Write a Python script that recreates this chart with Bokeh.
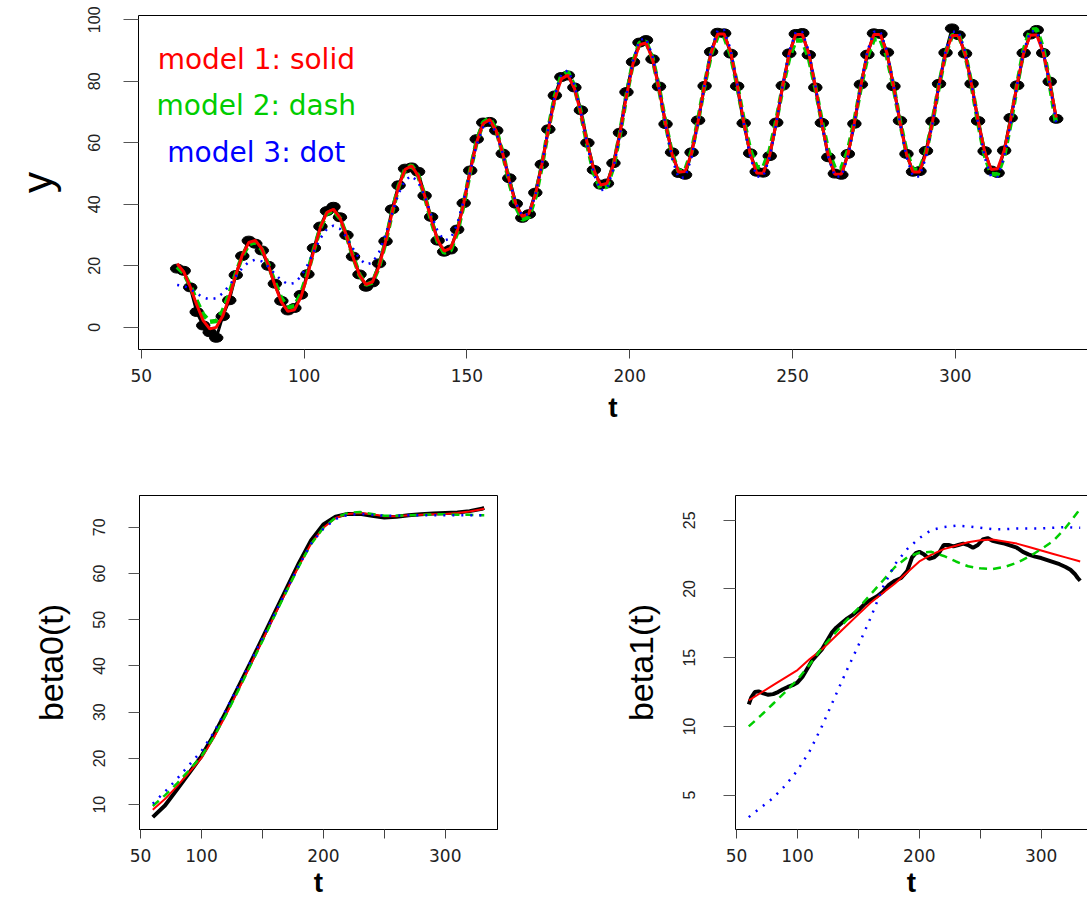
from bokeh.plotting import figure
from bokeh.models import LinearAxis, FixedTicker, Range1d, Label
from bokeh.layouts import column, row
from bokeh.embed import file_html
from bokeh.resources import INLINE

# ---------------- data ----------------
# observation times (every 2 units)
t_obs = list(range(61, 333, 2))

y_obs = [19.1, 18.4, 13.0, 5.0, 0.6, -1.6, -3.4, 3.6, 8.8, 17.0, 23.2, 28.2,
         27.2, 25.0, 20.0, 14.2, 8.6, 5.5, 6.3, 10.6, 17.3, 25.8, 32.8, 37.8,
         39.2, 35.8, 30.0, 23.0, 17.2, 13.2, 14.6, 20.8, 28.0, 38.4, 46.2, 51.6,
         52.0, 50.6, 42.8, 35.9, 28.2, 24.6, 25.3, 31.8, 40.4, 51.0, 61.2, 66.6,
         66.8, 64.0, 56.5, 48.5, 40.2, 35.6, 36.8, 43.8, 53.0, 64.4, 75.4, 81.4,
         81.9, 78.0, 70.6, 60.0, 51.2, 46.4, 46.8, 53.4, 63.3, 76.5, 86.3, 92.6,
         93.4, 87.2, 78.3, 66.1, 56.9, 50.2, 49.6, 56.9, 67.3, 78.5, 89.6, 95.8,
         95.6, 89.0, 78.4, 66.4, 56.6, 50.6, 50.3, 55.7, 66.6, 78.6, 89.1, 95.4,
         95.7, 88.6, 78.0, 66.5, 55.3, 50.0, 49.6, 56.4, 66.2, 79.0, 88.7, 95.6,
         95.4, 89.4, 78.4, 67.2, 56.4, 50.6, 50.8, 57.4, 67.0, 79.2, 89.3, 97.2,
         95.0, 89.0, 79.2, 67.1, 57.3, 51.0, 50.2, 57.5, 68.1, 78.7, 89.2, 95.2,
         96.7, 89.2, 79.9, 67.8]

fit_model1 = [20.7, 18.1, 13.2, 7.35, 2.2, -0.5, 0.0, 3.7, 9.8, 17.05, 23.5, 27.6,
              28.3, 25.55, 20.2, 13.8, 8.25, 5.2, 5.7, 9.85, 16.8, 25.1, 32.55, 37.4,
              38.4, 35.6, 29.85, 22.9, 17.0, 13.9, 14.8, 19.8, 27.9, 37.3, 45.75, 51.3,
              52.55, 49.35, 42.9, 35.1, 28.35, 24.8, 25.75, 31.25, 40.25, 50.8, 60.25, 66.3,
              67.55, 63.85, 56.5, 47.7, 40.15, 36.05, 37.0, 43.0, 52.85, 64.25, 74.4, 80.8,
              82.0, 77.75, 69.55, 59.65, 51.15, 46.3, 46.8, 52.85, 63.2, 75.25, 85.7, 91.9,
              92.45, 87.2, 77.6, 66.25, 56.3, 50.55, 50.65, 56.65, 67.0, 78.95, 89.3, 95.4,
              95.4, 89.45, 79.0, 66.9, 56.4, 50.2, 50.1, 56.05, 66.5, 78.6, 89.15, 95.2,
              95.2, 89.1, 78.5, 66.3, 55.8, 49.8, 49.9, 56.0, 66.55, 78.65, 89.2, 95.25,
              95.2, 89.2, 78.7, 66.7, 56.4, 50.5, 50.55, 56.55, 66.9, 78.8, 89.05, 94.9,
              94.9, 89.0, 78.85, 67.2, 57.15, 51.35, 51.55, 57.4, 67.5, 79.15, 89.2, 95.0,
              95.1, 89.4, 79.55, 68.25]

fit_model2 = [19.7, 17.65, 13.55, 8.55, 4.2, 1.8, 2.1, 5.35, 10.85, 17.35, 23.2, 27.0,
              27.75, 25.3, 20.4, 14.55, 9.4, 6.5, 6.9, 10.8, 17.4, 25.25, 32.4, 37.05,
              38.1, 35.45, 29.9, 23.1, 17.05, 13.85, 14.65, 19.65, 27.8, 37.3, 45.85, 51.4,
              52.65, 49.45, 42.85, 34.9, 27.95, 24.25, 25.1, 30.75, 40.05, 50.8, 60.45, 66.65,
              67.95, 64.15, 56.55, 47.4, 39.35, 35.0, 35.9, 42.2, 52.5, 64.4, 75.05, 81.8,
              83.05, 78.45, 69.7, 59.25, 50.15, 45.15, 45.75, 52.25, 63.0, 75.4, 86.15, 92.45,
              92.9, 87.5, 77.8, 66.3, 56.35, 50.75, 51.0, 57.15, 67.3, 78.9, 88.95, 94.65,
              94.6, 88.75, 78.8, 67.4, 57.65, 52.1, 52.0, 57.5, 67.1, 78.15, 87.75, 93.25,
              93.25, 87.65, 78.05, 66.95, 57.3, 51.75, 51.7, 57.35, 67.0, 78.2, 88.0, 93.65,
              93.7, 88.15, 78.4, 66.95, 57.0, 51.25, 51.2, 56.95, 66.95, 78.7, 88.95, 94.95,
              95.05, 89.15, 78.75, 66.65, 56.1, 49.9, 49.7, 55.75, 66.45, 79.0, 90.1, 96.7,
              96.9, 90.55, 79.25, 65.9]

fit_model3 = [13.8, 13.5, 12.5, 11.05, 9.7, 9.1, 9.5, 11.1, 13.6, 16.5, 19.3, 21.3,
              22.0, 21.45, 19.7, 17.4, 15.3, 14.05, 14.4, 16.55, 20.2, 24.7, 28.95, 32.0,
              33.05, 32.05, 29.3, 25.65, 22.3, 20.45, 21.05, 24.45, 30.15, 37.0, 43.45, 47.9,
              49.25, 47.3, 42.7, 36.75, 31.25, 28.25, 28.9, 33.55, 41.4, 50.75, 59.35, 65.05,
              66.5, 63.3, 56.55, 48.1, 40.5, 36.25, 36.9, 42.8, 52.85, 64.7, 75.5, 82.4,
              83.55, 78.95, 70.0, 59.2, 49.85, 44.55, 45.05, 51.55, 62.65, 75.55, 86.75, 93.4,
              94.0, 88.25, 77.9, 65.6, 54.85, 48.6, 48.75, 55.3, 66.35, 79.1, 90.2, 96.6,
              96.65, 90.3, 79.2, 66.45, 55.45, 49.0, 49.05, 55.3, 66.2, 78.9, 89.75, 96.05,
              96.05, 89.75, 78.8, 66.2, 55.3, 49.0, 49.05, 55.4, 66.3, 78.9, 89.8, 96.1,
              96.15, 89.85, 78.9, 66.3, 55.35, 49.05, 49.05, 55.35, 66.3, 78.9, 89.85, 96.15,
              96.15, 89.85, 78.95, 66.25, 55.3, 49.0, 49.0, 55.3, 66.25, 78.95, 89.9, 96.25,
              96.25, 89.9, 78.95, 66.25]

# coefficient curves
t_beta = [60, 70, 80, 90, 100, 110, 120, 130, 140, 150, 160, 170, 180, 190, 200,
          210, 220, 230, 240, 250, 260, 270, 280, 290, 300, 310, 320, 330, 332]

beta0_true = [7.3, 9.8, 13.3, 16.9, 20.5, 25.0, 30.0, 35.3, 40.6, 46.0, 51.5, 56.9, 62.3, 67.2, 70.6,
              72.3, 72.9, 72.9, 72.5, 72.1, 72.3, 72.6, 72.8, 73.0, 73.1, 73.2, 73.5, 74.0, 74.2]
beta0_m1 = [8.9, 11.2, 14.0, 17.0, 20.1, 24.4, 29.4, 34.7, 40.1, 45.5, 51.0, 56.4, 61.7, 66.5, 69.9,
            72.0, 72.9, 73.1, 72.8, 72.4, 72.4, 72.6, 72.7, 72.8, 72.9, 73.1, 73.4, 73.9, 74.0]
beta0_m2 = [9.7, 12.0, 14.6, 17.5, 20.5, 24.6, 29.4, 34.6, 40.0, 45.4, 50.9, 56.3, 61.6, 66.4, 69.9,
            72.1, 73.1, 73.3, 72.9, 72.5, 72.5, 72.6, 72.7, 72.8, 72.8, 72.7, 72.7, 72.6, 72.6]
beta0_m3 = [10.2, 12.8, 15.6, 18.6, 21.6, 25.6, 30.4, 35.6, 40.8, 46.0, 51.3, 56.6, 61.8, 66.5, 69.7,
            71.8, 72.7, 72.9, 72.7, 72.5, 72.5, 72.6, 72.6, 72.6, 72.6, 72.6, 72.6, 72.6, 72.6]

t_beta1_true = [60, 62, 65, 68, 72, 76, 80, 84, 88, 92, 96, 100, 104, 108, 112, 116, 120, 124, 128, 132,
                136, 140, 145, 150, 155, 160, 165, 170, 175, 180, 185, 190, 194, 197, 200, 204, 208, 212,
                216, 220, 224, 228, 232, 236, 240, 244, 248, 252, 256, 260, 265, 270, 275, 280, 285, 290,
                295, 300, 305, 310, 315, 320, 324, 328, 330, 332]
beta1_true = [11.6, 12.1, 12.5, 12.55, 12.4, 12.3, 12.35, 12.5, 12.7, 12.87, 13.0, 13.2, 13.6, 14.2, 14.8,
              15.2, 15.6, 16.2, 16.8, 17.2, 17.5, 17.8, 18.1, 18.45, 18.9, 19.2, 19.45, 19.8, 20.3, 20.6,
              20.8, 21.3, 22.3, 22.6, 22.7, 22.5, 22.2, 22.3, 22.6, 23.2, 23.2, 23.1, 23.2, 23.3, 23.2,
              23.0, 23.2, 23.6, 23.7, 23.5, 23.4, 23.3, 23.15, 23.0, 22.7, 22.5, 22.35, 22.25, 22.1, 21.95,
              21.8, 21.6, 21.4, 21.05, 20.8, 20.6]
beta1_m1 = [11.9, 12.45, 13.0, 13.55, 14.1, 14.9, 15.6, 16.45, 17.3, 18.15, 19.0, 19.7, 20.4, 21.2, 22.0,
            22.5, 22.9, 23.15, 23.4, 23.55, 23.6, 23.45, 23.3, 23.05, 22.8, 22.55, 22.3, 22.05, 22.0]
beta1_m2 = [10.0, 10.8, 11.65, 12.5, 13.4, 14.5, 15.7, 16.7, 17.7, 18.6, 19.6, 20.6, 21.6, 22.3, 22.65,
            22.7, 22.4, 22.0, 21.65, 21.5, 21.45, 21.6, 21.9, 22.35, 22.9, 23.5, 24.45, 25.6, 25.9]
beta1_m3 = [3.4, 4.1, 4.8, 5.7, 6.8, 8.2, 10.0, 12.0, 14.0, 15.9, 17.9, 20.1, 21.8, 22.9, 23.7,
            24.3, 24.5, 24.6, 24.55, 24.45, 24.35, 24.35, 24.4, 24.4, 24.4, 24.45, 24.5, 24.45, 24.45]

x_ticks = [50, 100, 150, 200, 250, 300]
y_ticks_top = [0, 20, 40, 60, 80, 100]
y_ticks_b0 = [10, 20, 30, 40, 50, 60, 70]
y_ticks_b1 = [5, 10, 15, 20, 25]

legend_labels = ["model 1: solid", "model 2: dash", "model 3: dot"]
legend_colors = ["#FF0000", "#00CD00", "#0000FF"]

RED, GREEN, BLUE = "#FF0000", "#00CD00", "#0000FF"


# ---------------- helpers ----------------
def make_fig(width, height, x_end, y_range, mb_left, mb_right, mb_top, mb_bottom, box):
    p = figure(width=width, height=height,
               x_range=Range1d(49.12, x_end), y_range=Range1d(*y_range),
               output_backend="svg", toolbar_location=None,
               min_border_left=mb_left, min_border_right=mb_right,
               min_border_top=mb_top, min_border_bottom=mb_bottom)
    p.grid.visible = False
    p.background_fill_color = "white"
    p.border_fill_color = "white"
    if box:
        p.outline_line_color = "black"
        p.outline_line_width = 1
        p.outline_line_alpha = 1.0
    else:
        p.outline_line_color = None
        top_ax = LinearAxis(ticker=FixedTicker(ticks=[]), major_tick_out=0, major_tick_in=0,
                            minor_tick_out=0, minor_tick_in=0,
                            major_label_text_font_size="0px", major_label_standoff=0,
                            axis_line_color="black", axis_line_width=1)
        p.add_layout(top_ax, "above")
    return p


def style_x(p, blank=(), label_standoff=2):
    ax = p.below[0]
    ax.ticker = FixedTicker(ticks=x_ticks)
    ax.major_label_overrides = {v: "" for v in blank}
    ax.major_tick_out = 9
    ax.major_tick_in = 0
    ax.minor_tick_out = 0
    ax.minor_tick_in = 0
    ax.major_tick_line_color = "#444444"
    ax.axis_line_color = "black"
    ax.major_label_text_font = "DejaVu Sans"
    ax.major_label_text_font_size = "17px"
    ax.major_label_text_color = "#222222"
    ax.major_label_standoff = 10
    ax.axis_label = "t"
    ax.axis_label_text_font = "Liberation Sans"
    ax.axis_label_text_font_style = "bold"
    ax.axis_label_text_font_size = "28px"
    ax.axis_label_text_color = "black"
    ax.axis_label_standoff = label_standoff


def style_y(p, ticks, label, tick_len, standoff, label_size, label_standoff):
    ax = p.left[0]
    ax.ticker = FixedTicker(ticks=ticks)
    ax.major_tick_out = tick_len
    ax.major_tick_in = 0
    ax.minor_tick_out = 0
    ax.minor_tick_in = 0
    ax.major_tick_line_color = "#555555"
    ax.axis_line_color = "black"
    ax.major_label_orientation = "vertical"
    ax.major_label_text_font = "Liberation Sans"
    ax.major_label_text_font_size = "16px"
    ax.major_label_text_color = "#222222"
    ax.major_label_standoff = standoff
    ax.axis_label = label
    ax.axis_label_text_font = "Liberation Sans"
    ax.axis_label_text_font_style = "normal"
    ax.axis_label_text_font_size = label_size
    ax.axis_label_text_color = "black"
    ax.axis_label_standoff = label_standoff


# ---------------- top panel ----------------
top = make_fig(1087, 440, 340.6, (-7.2, 101.4), 138, 0, 15, 91, box=False)
style_x(top, label_standoff=7)
style_y(top, y_ticks_top, "y", 15, 23, "42px", 25)

top.ellipse(x=t_obs, y=y_obs, width=13.5, height=9, width_units="screen", height_units="screen",
            fill_color="black", line_color="black")
top.line(t_obs, y_obs, line_color="black", line_width=3)
top.line(t_obs, fit_model2, line_color=GREEN, line_width=4.5, line_dash="8 5")
top.line(t_obs, fit_model1, line_color=RED, line_width=3)
top.line(t_obs, fit_model3, line_color=BLUE, line_width=2.5, line_dash="2 6")

legend_y = [87.0, 72.0, 57.0]
for lab, col, yy in zip(legend_labels, legend_colors, legend_y):
    top.add_layout(Label(x=85.3, y=yy, text=lab, text_color=col, text_align="center",
                         text_baseline="alphabetic", text_font="DejaVu Sans",
                         text_font_size="28px"))

# ---------------- bottom left: beta0 ----------------
b0 = make_fig(590, 463, 342.88, (4.62, 76.88), 139, 93, 55, 74, box=True)
style_x(b0, blank=(150, 250))
style_y(b0, y_ticks_b0, "beta0(t)", 11, 23, "34px", 21)
b0.line(t_beta, beta0_true, line_color="black", line_width=4)
b0.line(t_beta, beta0_m1, line_color=RED, line_width=2)
b0.line(t_beta, beta0_m2, line_color=GREEN, line_width=2.5, line_dash="8 6")
b0.line(t_beta, beta0_m3, line_color=BLUE, line_width=2.5, line_dash="2 7")

# ---------------- bottom right: beta1 ----------------
b1 = make_fig(497, 463, 338.0, (2.5, 26.8), 145, 0, 55, 74, box=False)
style_x(b1, blank=(150, 250))
style_y(b1, y_ticks_b1, "beta1(t)", 12, 28, "34px", 21)
b1.line(t_beta1_true, beta1_true, line_color="black", line_width=4)
b1.line(t_beta, beta1_m1, line_color=RED, line_width=2)
b1.line(t_beta, beta1_m2, line_color=GREEN, line_width=2.5, line_dash="8 6")
b1.line(t_beta, beta1_m3, line_color=BLUE, line_width=2.5, line_dash="2 7")

layout = column(top, row(b0, b1))
open("out.html", "w").write(file_html(layout, INLINE))
